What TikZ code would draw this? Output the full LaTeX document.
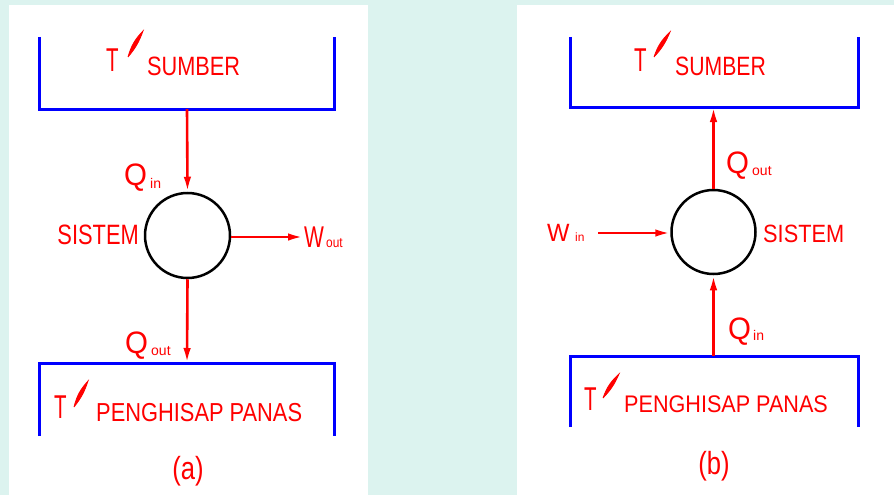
\documentclass[tikz,border=0pt]{standalone}
\usepackage{fontspec}
\usepackage{graphicx}
\setmainfont{Liberation Sans}
\usetikzlibrary{arrows.meta}
\definecolor{bgcyan}{RGB}{220,243,239}
\definecolor{boxblue}{RGB}{0,0,255}
\definecolor{flowred}{RGB}{255,0,0}
% text of a given size (pt) and horizontal squeeze
\newcommand\sq[3]{\scalebox{#2}[1]{\fontsize{#1}{#1}\selectfont #3}}
\tikzset{
  lbl/.style={inner sep=0pt, anchor=base west, text=flowred},
  reservoir/.style={draw=boxblue, line width=3pt},
  sys/.style={circle, draw=black, line width=2.5pt, inner sep=0pt, minimum size=#1},
  flow/.style={draw=flowred, line width=2.6pt, -{Latex[length=15pt,width=7.5pt]}},
  tprime/.style={fill=flowred, draw=flowred, line width=0.8pt},
}
\begin{document}
\begin{tikzpicture}[x=1pt, y=-1pt]
  % page and panels
  \fill[bgcyan] (0,0) rectangle (894,495);
  \useasboundingbox (0,0) rectangle (894,495);
  \fill[white] (9,5) rectangle (368,495);
  \fill[white] (517,5) rectangle (894,495);

  % ---------------- (a) heat engine ----------------
  \draw[reservoir] (39,37) -- (39,109) -- (334,109) -- (334,37);
  \draw[reservoir] (39,436) -- (39,363) -- (334,363) -- (334,436);
  \coordinate (aTop) at (187,109);
  \coordinate (aBot) at (187,363);
  \coordinate (aW) at (303,237);
  \node[sys=85pt] (aSys) at (187.5,235.5) {};
  \draw[flow] (aTop) -- (aSys.north);
  \draw[flow] (aSys.south) -- (aBot);
  \draw[flow] (aSys.east |- aW) -- (aW);

  \node[lbl] (aT1) at (106,72) {\sq{33}{0.62}{T}};
  \path[tprime] (128,57) to[bend left=14] (143,31) to[bend left=10] (128,57);
  \node[lbl] (aSumber) at (147,75) {\sq{26.5}{0.82}{SUMBER}};

  \node[lbl] (aQin) at (124,185) {\sq{31}{0.95}{Q}};
  \node[lbl] (aQinS) at (150,188) {\sq{14}{1}{in}};
  \node[lbl, anchor=base east] (aSis) at (139,244) {\sq{28}{0.78}{SISTEM}};
  \node[lbl] (aWo) at (304,247) {\sq{30}{0.7}{W}};
  \node[lbl] (aWoS) at (326,247) {\sq{14}{0.85}{out}};
  \node[lbl] (aQout) at (125,353) {\sq{31}{0.95}{Q}};
  \node[lbl] (aQoutS) at (151,355) {\sq{14}{1}{out}};

  \node[lbl] (aT2) at (54,418) {\sq{33}{0.62}{T}};
  \path[tprime] (74,407) to[bend left=14] (88,381) to[bend left=10] (74,407);
  \node[lbl] (aSink) at (96,421) {\sq{26}{0.84}{PENGHISAP PANAS}};
  \node[lbl, anchor=center] (aCap) at (188,471) {\sq{32}{0.8}{(a)}};

  % ---------------- (b) heat pump ----------------
  \draw[reservoir] (570,37) -- (570,107) -- (858,107) -- (858,37);
  \draw[reservoir] (570,427) -- (570,356) -- (858,356) -- (858,427);
  \coordinate (bTop) at (713.5,107);
  \coordinate (bBot) at (713.5,356);
  \coordinate (bW) at (598,233);
  \node[sys=84pt] (bSys) at (713.5,232) {};
  \draw[flow] (bSys.north) -- (bTop);
  \draw[flow] (bBot) -- (bSys.south);
  \draw[flow] (bW) -- (bSys.west |- bW);

  \node[lbl] (bT1) at (634,72) {\sq{33}{0.62}{T}};
  \path[tprime] (654,57) to[bend left=14] (670,32) to[bend left=10] (654,57);
  \node[lbl] (bSumber) at (675,75) {\sq{26.5}{0.8}{SUMBER}};

  \node[lbl] (bQout) at (726,173) {\sq{31}{0.95}{Q}};
  \node[lbl] (bQoutS) at (752,175) {\sq{14}{1}{out}};
  \node[lbl] (bWi) at (547,241) {\sq{25}{0.95}{W}};
  \node[lbl] (bWiS) at (575,241) {\sq{12}{1}{in}};
  \node[lbl] (bSis) at (763,242) {\sq{25}{0.87}{SISTEM}};
  \node[lbl] (bQin) at (728,339) {\sq{31}{0.95}{Q}};
  \node[lbl] (bQinS) at (753,340) {\sq{14}{1}{in}};

  \node[lbl] (bT2) at (584,410) {\sq{33}{0.62}{T}};
  \path[tprime] (603,398) to[bend left=14] (619,374) to[bend left=10] (603,398);
  \node[lbl] (bSink) at (624,412) {\sq{24}{0.9}{PENGHISAP PANAS}};
  \node[lbl, anchor=center] (bCap) at (714,466) {\sq{32}{0.8}{(b)}};
\end{tikzpicture}
\end{document}
